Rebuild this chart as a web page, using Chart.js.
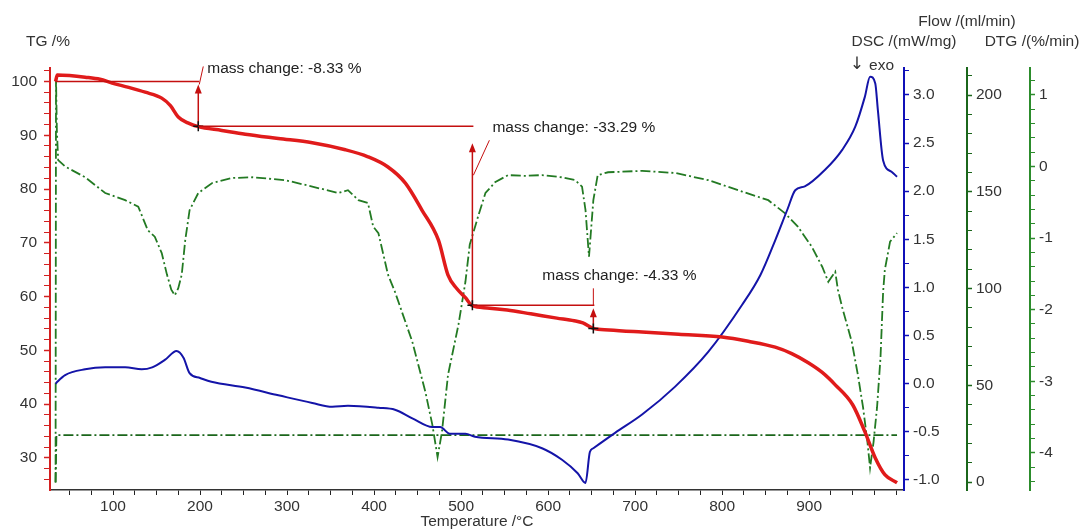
<!DOCTYPE html>
<html>
<head>
<meta charset="utf-8">
<title>TG / DSC / DTG</title>
<script src="https://cdn.jsdelivr.net/npm/chart.js@4.4.1/dist/chart.umd.min.js"></script>
<style>
  html, body { margin: 0; padding: 0; background: #fff; }
  #wrap { width: 1083px; height: 531px; }
</style>
</head>
<body>
<div id="wrap"><canvas id="taChart" width="1083" height="531"></canvas></div>
<script>
// TG mass curve (%)
const tgTemp = [34, 36, 50, 68, 85, 99, 118, 137, 156, 166, 175, 186, 198, 225, 252, 290, 329, 367, 393, 416,
  436, 455, 474, 485, 495, 505, 513, 530, 553, 580, 610, 630, 640, 652, 670, 708, 750, 800, 830, 861,
  880, 899, 915, 930, 950, 964, 976, 987, 1001];
const tgMass = [100.0, 101.2, 101.1, 100.8, 100.4, 99.7, 98.9, 98.0, 96.9, 95.5, 93.4, 92.3, 91.6, 90.9, 90.2, 89.4, 88.6, 87.3, 86.0, 84.1,
  81.1, 76.1, 70.5, 64.0, 61.5, 59.8, 58.3, 57.9, 57.5, 56.8, 56.0, 55.5, 55.1, 54.1, 53.8, 53.4, 53.0, 52.5, 51.7, 50.6,
  49.4, 47.7, 45.9, 43.6, 39.9, 34.9, 30.0, 26.9, 25.4];

// DSC heat flow (mW/mg)
const dscTemp = [34, 36, 45, 68, 91, 114, 133, 145, 160, 173, 181, 188, 200, 213, 252, 290, 329, 352, 370, 405,
  424, 444, 467, 476, 487, 505, 516, 554, 593, 616, 634, 643, 648, 652, 677, 708, 746, 784, 823, 844,
  861, 875, 884, 895, 918, 938, 953, 964, 970, 976, 979, 985, 995, 1001];
const dscFlow = [0.0, 0.02, 0.09, 0.15, 0.17, 0.17, 0.15, 0.17, 0.25, 0.34, 0.27, 0.11, 0.06, 0.02, -0.04, -0.12, -0.20, -0.24, -0.23, -0.25,
  -0.27, -0.36, -0.45, -0.45, -0.52, -0.52, -0.55, -0.58, -0.67, -0.79, -0.93, -1.03, -0.71, -0.67, -0.51, -0.32, -0.03, 0.33, 0.82, 1.13,
  1.49, 1.81, 2.01, 2.05, 2.22, 2.43, 2.67, 2.98, 3.19, 3.12, 2.84, 2.32, 2.20, 2.15];

// DTG (%/min)
const dtgTemp = [34, 34.5, 35.5, 37, 45, 68, 91, 114, 129, 140, 148, 156, 162, 167, 171, 175, 179, 183, 188, 198,
  214, 237, 260, 298, 329, 359, 370, 382, 393, 399, 405, 416, 424, 444, 459, 467, 473, 478, 485, 497,
  505, 510, 520, 528, 539, 554, 574, 593, 616, 631, 639, 643, 647, 652, 657, 669, 708, 746, 784, 823,
  853, 872, 887, 903, 915, 922, 930, 933, 938, 949, 956, 962, 967, 970, 974, 978, 982, 985, 987, 993, 1001];
const dtgRate = [-4.42, 1.24, 0.5, 0.09, 0.0, -0.15, -0.37, -0.47, -0.56, -0.89, -0.98, -1.21, -1.51, -1.72, -1.80, -1.70, -1.51, -1.03, -0.61, -0.37,
  -0.23, -0.16, -0.15, -0.19, -0.28, -0.37, -0.33, -0.47, -0.51, -0.84, -0.93, -1.51, -1.75, -2.45, -3.15, -3.61, -4.06, -3.71, -2.91, -2.21,
  -1.61, -1.09, -0.68, -0.37, -0.22, -0.12, -0.13, -0.12, -0.15, -0.19, -0.28, -0.61, -1.26, -0.47, -0.12, -0.08, -0.06, -0.09, -0.19, -0.35,
  -0.47, -0.65, -0.84, -1.12, -1.40, -1.61, -1.47, -1.72, -1.97, -2.45, -2.91, -3.37, -3.85, -4.21, -3.85, -3.37, -2.67, -1.75, -1.44, -1.05, -0.93];

// purge gas flow (ml/min)
const flowTemp = [34, 35, 1001];
const flowRate = [0, 24.3, 24.3];

// mass-change steps evaluated on the TG curve
const stepTemps = [198, 513, 652];
const stepLevels = [100, 91.67, 58.38, 54.05];
const stepLabels = ['mass change: -8.33 %', 'mass change: -33.29 %', 'mass change: -4.33 %'];

const FONT = { family: '"Liberation Sans", Arial, sans-serif', size: 15.5 };
const TEXT = '#333';
const RED = '#e01b1b';
const RED_DARK = '#c40f0f';
const BLUE = '#1414a8';
const GREEN = '#237a23';
const GREEN_DARK = '#1b661b';
const DASH_DOT = [10, 3, 2, 3];

function toPoints(xs, ys) {
  return xs.map((x, i) => ({ x: x, y: ys[i] }));
}

function nearMultiple(v, m) {
  return Math.abs(v / m - Math.round(v / m)) < 1e-6;
}

// pixel offsets of the arrow tips, leader lines and labels for each step
const stepLayout = [
  { tipGap: 3, lead: [1, 3, 5, -15], label: [9, -13] },
  { tipGap: 17, lead: [1, 49, 17, 14], label: [20, 1] },
  { tipGap: 3, lead: [0, 0, 0, -17], label: [-51, -30] }
];

const massSteps = {
  id: 'massSteps',
  afterDatasetsDraw(chart) {
    const ctx = chart.ctx;
    const xs = chart.scales.x;
    const ys = chart.scales.yTG;
    ctx.save();
    ctx.lineWidth = 1.5;
    stepTemps.forEach((t, i) => {
      const lay = stepLayout[i];
      const x0 = xs.getPixelForValue(i ? stepTemps[i - 1] : tgTemp[0]);
      const x1 = xs.getPixelForValue(t);
      const yTop = ys.getPixelForValue(stepLevels[i]);
      const yBot = ys.getPixelForValue(stepLevels[i + 1]);
      const tip = yTop + lay.tipGap;

      ctx.strokeStyle = RED_DARK;
      ctx.fillStyle = RED_DARK;
      ctx.beginPath();
      ctx.moveTo(x0, yTop);
      ctx.lineTo(x1 + 1, yTop);
      ctx.moveTo(x1, yBot);
      ctx.lineTo(x1, tip + 6);
      ctx.stroke();
      // arrow head
      ctx.beginPath();
      ctx.moveTo(x1, tip);
      ctx.lineTo(x1 - 3.5, tip + 9);
      ctx.lineTo(x1 + 3.5, tip + 9);
      ctx.closePath();
      ctx.fill();

      // leader to label
      ctx.lineWidth = 1;
      ctx.beginPath();
      ctx.moveTo(x1 + lay.lead[0], yTop + lay.lead[1]);
      ctx.lineTo(x1 + lay.lead[2], yTop + lay.lead[3]);
      ctx.stroke();
      ctx.lineWidth = 1.5;

      // evaluation point
      ctx.strokeStyle = '#111';
      ctx.beginPath();
      ctx.moveTo(x1 - 5, yBot);
      ctx.lineTo(x1 + 5, yBot);
      ctx.moveTo(x1, yBot - 5);
      ctx.lineTo(x1, yBot + 5);
      ctx.stroke();

      ctx.fillStyle = '#222';
      ctx.font = FONT.size + 'px ' + FONT.family;
      ctx.textAlign = 'left';
      ctx.textBaseline = 'middle';
      ctx.fillText(stepLabels[i], x1 + lay.label[0], yTop + lay.label[1]);
    });
    ctx.restore();
  },
  afterDraw(chart) {
    const ctx = chart.ctx;
    const s = chart.scales;
    ctx.save();
    ctx.fillStyle = TEXT;
    ctx.font = FONT.size + 'px ' + FONT.family;
    ctx.textBaseline = 'middle';
    ctx.textAlign = 'left';
    ctx.fillText('TG /%', s.yTG.right - 24, 42);
    ctx.textAlign = 'center';
    ctx.fillText('DSC /(mW/mg)', s.yDSC.left, 42);
    ctx.fillText('Flow /(ml/min)', s.yFlow.left, 22);
    ctx.fillText('DTG /(%/min)', s.yDTG.left + 2, 42);
    ctx.textAlign = 'right';
    ctx.fillText('exo', s.yDSC.left - 10, 66);
    // exo direction marker
    ctx.font = '17px "DejaVu Sans", sans-serif';
    ctx.fillText('\u2193', s.yDSC.left - 40, 65);
    ctx.restore();
  }
};

function yAxis(position, color, min, max, step, every, width, digits) {
  return {
    type: 'linear',
    position: position,
    min: min,
    max: max,
    border: { color: color, width: 2 },
    grid: {
      drawOnChartArea: false,
      tickLength: 5,
      tickColor: color,
      tickWidth: c => nearMultiple(c.tick.value, every) ? 1.5 : 1
    },
    ticks: {
      stepSize: step,
      autoSkip: false,
      includeBounds: false,
      padding: 4,
      color: TEXT,
      font: FONT,
      callback: v => nearMultiple(v, every) ? (Math.abs(v) < 1e-9 ? 0 : v).toFixed(digits) : ''
    },
    afterFit: scale => { scale.width = width; }
  };
}

const yTG = yAxis('left', '#d42020', 24.05, 102.5, 2, 10, 50, 0);
yTG.grid.tickLength = 6;
yTG.ticks.padding = 7;

new Chart(document.getElementById('taChart'), {
  type: 'line',
  data: {
    datasets: [
      { label: 'TG', data: toPoints(tgTemp, tgMass), yAxisID: 'yTG', borderColor: RED, borderWidth: 3.5, cubicInterpolationMode: 'monotone' },
      { label: 'DSC', data: toPoints(dscTemp, dscFlow), yAxisID: 'yDSC', borderColor: BLUE, borderWidth: 2, cubicInterpolationMode: 'monotone' },
      { label: 'DTG', data: toPoints(dtgTemp, dtgRate), yAxisID: 'yDTG', borderColor: GREEN, borderWidth: 1.8, borderDash: DASH_DOT },
      { label: 'Flow', data: toPoints(flowTemp, flowRate), yAxisID: 'yFlow', borderColor: GREEN_DARK, borderWidth: 1.8, borderDash: DASH_DOT }
    ]
  },
  options: {
    responsive: false,
    animation: false,
    devicePixelRatio: 1,
    layout: { padding: { left: 0, right: 0, top: 68, bottom: 0 } },
    elements: { point: { radius: 0 }, line: { fill: false } },
    plugins: { legend: { display: false }, tooltip: { enabled: false } },
    scales: {
      x: {
        type: 'linear',
        position: 'bottom',
        min: 27.6,
        max: 1009,
        border: { color: '#333', width: 1.5 },
        grid: { drawOnChartArea: false, tickLength: 5, tickColor: '#222' },
        ticks: {
          stepSize: 25,
          autoSkip: false,
          includeBounds: false,
          maxRotation: 0,
          padding: 2,
          color: TEXT,
          font: FONT,
          callback: v => (nearMultiple(v, 100) && v < 1000) ? String(v) : ''
        },
        title: { display: true, text: 'Temperature /\u00B0C', color: TEXT, font: FONT, padding: 0 },
        afterFit: scale => { scale.height = 41; }
      },
      yTG: yTG,
      yDSC: yAxis('right', '#1010b8', -1.104, 3.28, 0.25, 0.5, 63, 1),
      yFlow: yAxis('right', GREEN_DARK, -4.1, 214, 10, 50, 63, 0),
      yDTG: yAxis('right', '#2c8c2c', -4.52, 1.377, 0.2, 1, 53, 0)
    }
  },
  plugins: [massSteps]
});
</script>
</body>
</html>
